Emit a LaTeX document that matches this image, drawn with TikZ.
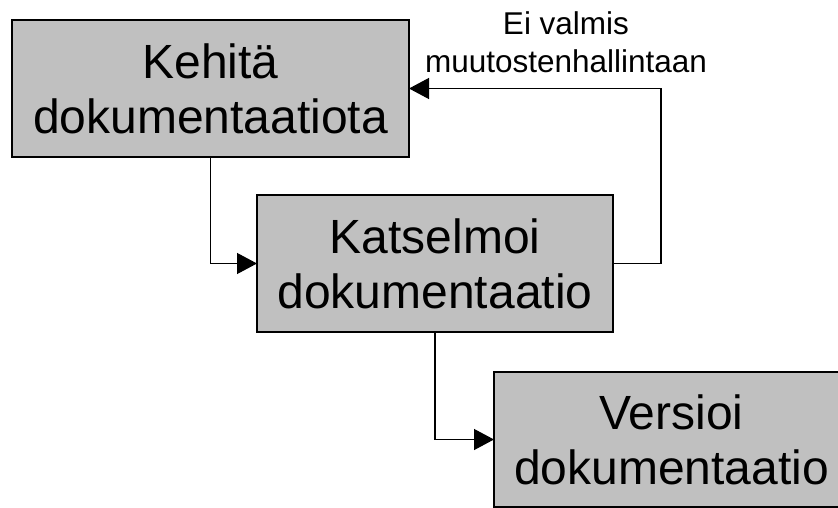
\documentclass[tikz,border=0pt]{standalone}
\usepackage{fontspec}
\setmainfont{Liberation Sans}
\usetikzlibrary{arrows.meta}
\begin{document}
\begin{tikzpicture}[x=1pt,y=-1pt,
  procbox/.style={draw=black,line width=2pt,fill=boxgray,inner sep=0pt,outer sep=0pt,
    align=center,font=\fontsize{48}{55}\selectfont},
  conn/.style={draw=black,line width=1.3pt,-{Triangle[length=20pt,width=21pt]}},
  lbltext/.style={align=center,font=\fontsize{31.5}{38}\selectfont,inner sep=0pt}]
\definecolor{boxgray}{RGB}{192,192,192}
\useasboundingbox (0,0) rectangle (838,508);
\clip (0,0) rectangle (838,508);
\node[procbox,minimum width=397pt,minimum height=137pt] (b1) at (210.5,88.5) {Kehitä\\dokumentaatiota};
\node[procbox,minimum width=356pt,minimum height=137pt] (b2) at (435,263.5) {Katselmoi\\dokumentaatio};
\node[procbox,minimum width=355pt,minimum height=135pt] (b3) at (671.5,439.5) {Versioi\\dokumentaatio};
\draw[conn] (b1.south) |- (b2.west);
\draw[conn] (b2.south) |- (b3.west);
\draw[conn] (b2.east) -- ++(48,0) |- (b1.east);
\node[lbltext] (lbl) at (566,42) {Ei valmis\\muutostenhallintaan};
\end{tikzpicture}
\end{document}
